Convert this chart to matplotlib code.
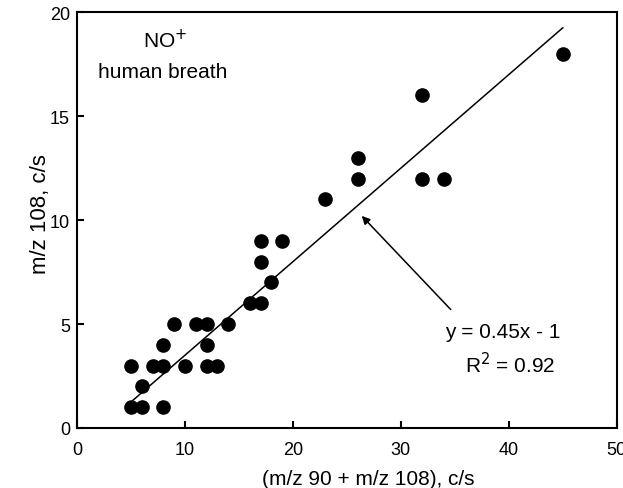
import matplotlib
matplotlib.use("Agg")
import matplotlib.pyplot as plt
import numpy as np

plt.rcParams['font.family'] = ['Liberation Sans', 'DejaVu Sans']

x_vals = [5, 5, 6, 6, 7, 8, 8, 8, 9, 10, 11, 12, 12, 12, 13, 14, 16, 17, 17, 17, 18, 19, 23, 26, 26, 32, 32, 34, 45]
y_vals = [1, 3, 1, 2, 3, 1, 3, 4, 5, 3, 5, 5, 4, 3, 3, 5, 6, 6, 8, 9, 7, 9, 11, 12, 13, 16, 12, 12, 18]
fit_slope = 0.45
fit_intercept = -1
fit_range = [4.8, 45]

fig = plt.figure(figsize=(6.23, 4.89), dpi=100)
ax = fig.add_axes([0.1236, 0.1227, 0.990 - 0.1236, 0.973 - 0.1227])

ax.plot(x_vals, y_vals, 'o', color='black', markersize=9.5, zorder=3)
fx = np.array(fit_range)
ax.plot(fx, fit_slope * fx + fit_intercept, color='black', linewidth=1.1)

ax.set_xlim(0, 50)
ax.set_ylim(0, 20)
ax.set_xticks([0, 10, 20, 30, 40, 50])
ax.set_yticks([0, 5, 10, 15, 20])
ax.tick_params(direction='in', length=5, width=1.5, labelsize=13)
ax.tick_params(axis='x', pad=9.5)
ax.tick_params(axis='y', pad=5)
for s in ax.spines.values():
    s.set_linewidth(1.5)

ax.set_xlabel('(m/z 90 + m/z 108), c/s', fontsize=15)
ax.xaxis.set_label_coords(0.54, -0.098)
ax.set_ylabel('m/z 108, c/s', fontsize=16)
ax.yaxis.set_label_coords(-0.048, 0.517)

ax.text(6.1, 18.3, 'NO$^{+}$', fontsize=15, ha='left', va='baseline')
ax.text(1.95, 16.9, 'human breath', fontsize=15, ha='left', va='baseline')

ax.annotate('', xy=(26.2, 10.3), xytext=(34.8, 5.6),
            arrowprops=dict(arrowstyle='-|>', color='black', lw=1.1, mutation_scale=12))
ax.text(34.1, 4.375, 'y = 0.45x - 1', fontsize=15, ha='left', va='baseline')
ax.text(35.9, 2.69, 'R$^{2}$ = 0.92', fontsize=15, ha='left', va='baseline')

fig.savefig('out.png', dpi=100)
